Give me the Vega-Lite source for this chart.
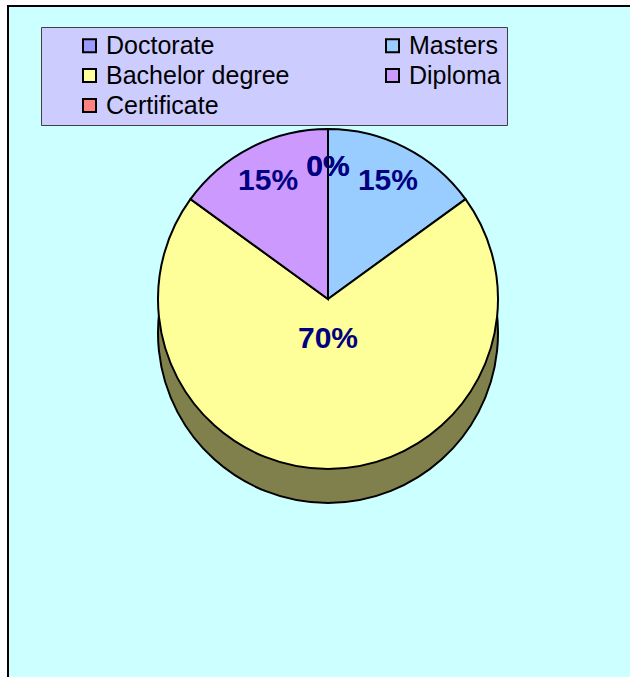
{
  "$schema": "https://vega.github.io/schema/vega-lite/v6.json",
  "width": 640,
  "height": 690,
  "autosize": {"type": "none"},
  "padding": {"left": 8, "top": 6, "right": 0, "bottom": 0},
  "background": "#FFFFFF",
  "view": {"fill": "#CCFFFF", "stroke": "#000000", "strokeWidth": 2},
  "data": {
    "values": [
      {"level": "Doctorate", "pct": 0.0, "ord": 1},
      {"level": "Masters", "pct": 0.15, "ord": 2},
      {"level": "Bachelor degree", "pct": 0.70, "ord": 3},
      {"level": "Diploma", "pct": 0.15, "ord": 4},
      {"level": "Certificate", "pct": 0.0, "ord": 5}
    ]
  },
  "encoding": {
    "theta": {"field": "pct", "type": "quantitative", "stack": true},
    "order": {"field": "ord", "type": "quantitative"}
  },
  "layer": [
    {
      "mark": {"type": "arc", "radius": 170, "yOffset": -18, "stroke": "#000000", "strokeWidth": 2},
      "encoding": {
        "color": {
          "field": "level", "type": "nominal",
          "scale": {
            "domain": ["Doctorate", "Masters", "Bachelor degree", "Diploma", "Certificate"],
            "range": ["#4C4C80", "#4C6680", "#80804C", "#664C80", "#804040"]
          },
          "legend": null
        }
      }
    },
    {
      "mark": {"type": "arc", "radius": 170, "yOffset": -52, "stroke": "#000000", "strokeWidth": 2},
      "encoding": {
        "color": {
          "field": "level", "type": "nominal",
          "scale": {
            "domain": ["Doctorate", "Masters", "Bachelor degree", "Diploma", "Certificate"],
            "range": ["#9999FF", "#99CCFF", "#FFFF99", "#CC99FF", "#FF8080"]
          },
          "legend": {
            "orient": "none", "legendX": 33, "legendY": 21, "title": null,
            "columns": 2, "gridAlign": "all", "direction": "horizontal"
          }
        }
      }
    },
    {
      "mark": {"type": "text", "radius": 132, "yOffset": -52, "font": "Liberation Sans", "fontWeight": "bold", "fontSize": 30, "fill": "#000080"},
      "encoding": {
        "text": {"condition": {"test": "datum.level == 'Bachelor degree'", "value": ""}, "field": "pct", "type": "quantitative", "format": ".0%"}
      }
    },
    {
      "mark": {"type": "text", "radius": 40, "yOffset": -52, "font": "Liberation Sans", "fontWeight": "bold", "fontSize": 30, "fill": "#000080"},
      "encoding": {
        "text": {"condition": {"test": "datum.level != 'Bachelor degree'", "value": ""}, "field": "pct", "type": "quantitative", "format": ".0%"}
      }
    }
  ],
  "resolve": {"scale": {"color": "independent"}, "legend": {"color": "independent"}},
  "config": {
    "legend": {
      "fillColor": "#CCCCFF",
      "strokeColor": "#404040",
      "padding": 6,
      "symbolType": "square",
      "symbolSize": 169,
      "symbolStrokeColor": "#000000",
      "symbolStrokeWidth": 2,
      "symbolOffset": 30,
      "labelOffset": 4,
      "labelFont": "Liberation Sans",
      "labelFontSize": 25,
      "labelColor": "#000000",
      "labelLimit": 400,
      "columnPadding": 60,
      "rowPadding": 4
    }
  }
}
